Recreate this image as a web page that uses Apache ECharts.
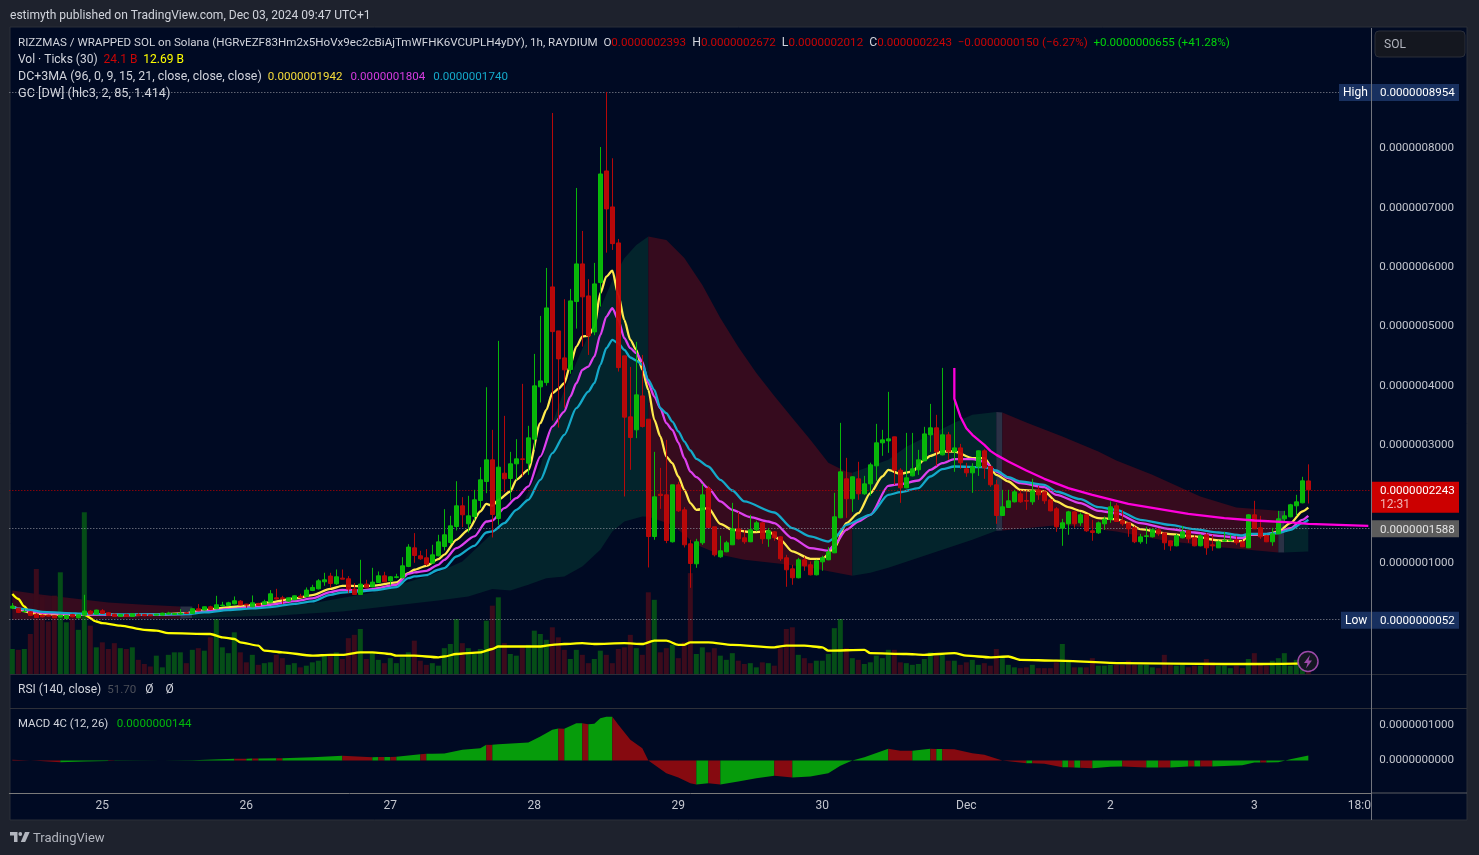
<!DOCTYPE html>
<html><head><meta charset="utf-8">
<style>html,body{margin:0;padding:0;background:#1e222d}#c{width:1479px;height:855px}</style>
<script src="https://cdn.jsdelivr.net/npm/echarts@6/dist/echarts.min.js"></script>
</head><body><div id="c"></div>
<script>
// All prices in units of 1e-10. Candle rows: open, close, low, high
const ohlc=[[247,281,230,332],[247,174,163,253],[185,191,180,230],[185,124,112,197],[146,90,84,163],[129,101,90,140],[129,112,110,135],[118,84,80,124],[96,129,90,135],[73,124,70,130],[140,101,90,150],[84,135,73,146],[129,197,118,472],[197,146,140,214],[146,214,140,220],[202,157,150,230],[169,124,118,180],[146,107,100,152],[107,140,101,146],[140,107,101,152],[107,152,101,157],[140,124,118,163],[140,118,112,146],[135,118,112,140],[129,146,124,150],[129,163,124,169],[146,163,140,185],[140,157,135,163],[146,163,140,230],[169,157,150,185],[157,236,150,242],[236,202,197,315],[214,270,208,275],[270,225,214,287],[236,303,230,455],[287,298,270,354],[292,337,287,354],[320,371,310,444],[365,298,292,382],[315,298,253,320],[270,337,264,461],[326,292,286,337],[309,354,303,388],[348,489,342,551],[421,399,390,573],[421,405,315,455],[365,421,354,427],[388,455,382,461],[449,427,421,489],[444,551,438,596],[545,596,534,641],[573,708,562,736],[691,725,624,843],[787,663,590,843],[658,776,640,899],[753,736,736,899],[742,568,500,787],[568,478,472,669],[478,652,472,1062],[652,590,584,725],[607,686,596,927],[680,792,674,865],[792,691,680,860],[708,776,630,787],[765,775,749,826],[759,961,750,1107],[950,1276,938,1326],[1264,1135,1012,1512],[1130,1079,1062,1214],[1096,989,961,1242],[1006,1146,1000,1315],[1130,1365,1120,1484],[1287,1484,1220,1916],[1354,1635,1315,1804],[1624,1973,1557,2388],[1973,1821,1613,2119],[1669,1804,1523,2141],[1793,2074,1725,2242],[2063,2411,1939,2625],[2383,2748,2186,3973],[2748,1827,1439,3254],[1759,2625,1652,4755],[2523,2428,2203,3490],[2434,2681,2063,2883],[2681,2765,2411,3097],[2765,2755,2467,4030],[2692,3119,2495,3322],[3097,3996,2917,4535],[3979,4080,3715,5176],[4051,5311,4000,5985],[5665,4911,3411,8599],[4923,4451,3293,4923],[4468,4266,3625,5457],[4271,5429,4200,5631],[5418,6053,4962,7334],[6053,5497,4659,6609],[5513,4839,4518,5795],[4906,5716,4850,6070],[5738,7570,5333,8025],[7621,6980,6243,8954],[7014,6395,6289,7835],[6407,4304,4237,6474],[4502,3468,2130,4502],[3473,3124,2580,4316],[3254,3844,3114,4738],[3827,3310,3293,4518],[3434,1455,933,3434],[1455,2124,1400,2883],[2169,2147,1922,2613],[2158,1388,1343,3085],[1366,2327,1354,2327],[2327,1888,1871,2377],[1905,1315,1270,1950],[1332,1000,590,1400],[995,1366,927,1416],[1349,2158,1315,2343],[2270,1607,1607,2310],[1619,1146,1118,1619],[1113,1214,1096,1467],[1197,1349,1190,1382],[1315,1585,1310,2023],[1585,1416,1405,1871],[1433,1366,1332,1568],[1366,1568,1360,1821],[1568,1686,1540,1720],[1686,1416,1332,1700],[1416,1551,1281,1596],[1534,1433,1382,1545],[1450,1079,1045,1460],[1096,894,607,1146],[910,759,641,978],[759,1062,750,1096],[1062,961,877,1118],[978,809,800,1034],[809,1045,800,1062],[1028,1096,877,1130],[1062,1197,1055,1276],[1180,1787,1175,2192],[1770,2546,1765,3372],[2428,2091,1770,2782],[2091,2462,1871,2470],[2428,2175,2074,2715],[2175,2343,2158,2478],[2343,2664,2141,2700],[2647,3035,2394,3355],[3035,3085,2816,3254],[3068,3102,2866,3895],[3136,2574,2327,3140],[2574,2276,2023,2608],[2276,2445,2270,3203],[2478,2597,2470,3203],[2580,2748,2495,2917],[2731,3186,2725,3305],[3170,3288,2883,3692],[3288,2883,2647,3507],[2832,3170,2825,4299],[3170,2883,2748,3220],[2883,2950,2546,4299],[2950,2698,2597,3018],[2597,2529,2462,2698],[2529,2630,2192,2692],[2630,2900,2478,2905],[2900,2613,2428,2928],[2636,2327,2293,2640],[2327,1810,1669,2411],[1810,1956,1800,2242],[1945,2057,1940,2242],[2040,2209,2030,2242],[2175,2040,2023,2231],[2063,2051,1905,2214],[2040,2226,1990,2428],[2242,2158,2074,2310],[2209,2057,2006,2215],[2074,1888,1880,2080],[1922,1619,1534,1950],[1596,1686,1298,1753],[1669,1871,1484,1888],[1871,1669,1602,1880],[1686,1821,1635,1860],[1821,1551,1534,1830],[1551,1523,1383,1737],[1517,1686,1500,1708],[1669,1748,1568,1793],[1742,1956,1686,2046],[1973,1708,1700,2018],[1725,1669,1635,1905],[1686,1585,1450,1690],[1602,1366,1343,1635],[1366,1450,1332,1500],[1456,1467,1332,1619],[1450,1568,1439,1596],[1568,1500,1467,1596],[1517,1349,1231,1525],[1382,1298,1214,1390],[1298,1467,1290,1500],[1433,1534,1425,1635],[1551,1416,1349,1568],[1433,1298,1290,1484],[1298,1467,1290,1500],[1484,1264,1146,1512],[1315,1298,1214,1484],[1264,1366,1260,1388],[1377,1388,1370,1534],[1382,1388,1375,1484],[1399,1349,1315,1467],[1366,1281,1275,1399],[1264,1821,1260,1830],[1821,1585,1580,2057],[1602,1450,1416,1804],[1467,1366,1360,1484],[1366,1500,1298,1602],[1500,1753,1495,1888],[1753,1804,1703,1888],[1787,1990,1780,2006],[1973,2040,1804,2158],[2023,2394,2015,2462],[2393,2243,2012,2672]];
// Volume in billions of ticks
const volume=[30,29,30,48,126,93,63,94,122,62,67,53,194,58,32,38,30,37,31,30,32,17,12,9,22,8,23,26,26,13,29,31,28,44,66,32,25,50,26,14,23,11,13,14,23,19,11,13,8,10,14,16,22,22,26,18,43,47,54,18,26,17,13,19,13,20,26,40,16,11,13,10,31,36,66,37,31,24,30,64,82,92,37,24,22,34,35,52,48,41,56,44,29,18,29,23,13,18,28,23,13,30,32,47,31,23,98,89,26,31,35,19,38,121,24,32,26,31,22,17,25,16,12,13,8,14,13,10,31,54,56,23,19,13,16,16,24,55,66,31,19,17,12,14,22,19,29,29,14,13,11,12,18,26,22,24,16,16,11,14,17,11,13,10,30,20,11,8,7,8,11,7,7,7,14,36,16,8,8,8,19,10,10,11,11,11,16,11,11,11,8,7,23,11,10,11,8,10,10,18,14,10,10,7,10,7,18,25,11,10,16,19,25,10,17,9,24.1];
const volumeMA=[[0,96],[1,90],[2,81],[3,73],[5,72],[9,72],[12,71],[14,63],[15,61],[18,58],[22,53],[24,52],[26,49],[33,48],[35,44],[37,42],[38,38],[41,34],[42,28],[45,26],[50,22],[53,23],[55,23],[58,26],[60,26],[63,24],[64,22],[67,22],[71,20],[72,21],[74,24],[78,26],[80,30],[81,33],[88,33],[90,35],[92,36],[95,37],[97,36],[102,37],[105,36],[107,40],[109,40],[111,35],[112,35],[113,38],[116,38],[120,35],[127,32],[129,34],[132,34],[135,32],[136,28],[142,29],[143,25],[149,24],[152,23],[157,25],[159,22],[163,20],[166,21],[168,17],[174,16],[185,13],[202,12],[208,12],[216,12.69]];
const maFast=[[0,275],[3,174],[5,152],[9,135],[12,140],[15,146],[19,129],[24,135],[29,163],[32,214],[36,259],[40,298],[43,343],[47,410],[50,466],[53,573],[55,624],[58,618],[60,624],[64,680],[66,837],[67,894],[69,961],[71,1073],[72,1150],[74,1399],[76,1568],[78,1877],[79,2006],[80,1973],[81,2074],[83,2214],[84,2411],[86,2579],[88,3366],[89,3591],[90,3872],[91,3945],[92,4040],[93,4349],[94,4658],[95,4827],[96,4839],[97,4985],[98,5558],[99,5839],[100,5940],[101,5530],[102,5108],[103,4771],[104,4603],[105,4265],[106,3928],[107,3423],[108,3142],[109,2804],[110,2692],[111,2467],[112,2242],[113,2018],[114,1905],[116,1933],[118,1669],[120,1568],[123,1529],[126,1540],[128,1399],[130,1203],[133,1079],[135,1079],[137,1259],[139,1680],[141,1849],[143,2186],[145,2467],[146,2580],[148,2512],[150,2551],[152,2748],[153,2816],[155,2889],[157,2889],[160,2776],[162,2776],[164,2495],[166,2383],[168,2242],[172,2214],[174,2046],[176,1950],[178,1888],[181,1765],[184,1748],[186,1680],[188,1579],[193,1495],[197,1456],[201,1388],[205,1377],[206,1484],[209,1489],[211,1540],[213,1680],[215,1877],[216,1942]];
const maMid=[[0,270],[3,197],[5,169],[9,146],[12,140],[15,140],[19,129],[24,135],[29,152],[32,191],[36,230],[40,264],[43,303],[47,365],[50,410],[53,517],[55,556],[58,545],[60,568],[64,641],[66,826],[67,849],[69,877],[71,978],[72,1062],[74,1259],[77,1456],[79,1708],[80,1725],[82,1933],[84,2102],[86,2299],[88,2804],[90,3310],[92,3563],[93,3816],[94,4041],[95,4266],[96,4322],[97,4490],[98,4856],[99,5165],[100,5305],[101,5109],[102,4799],[103,4631],[104,4547],[105,4406],[106,4041],[107,3816],[108,3619],[109,3366],[110,3254],[111,3040],[112,2776],[113,2551],[114,2456],[116,2270],[118,2046],[120,1905],[123,1782],[126,1708],[127,1680],[130,1427],[133,1259],[136,1214],[137,1315],[139,1568],[141,1708],[143,1821],[146,2310],[148,2338],[151,2400],[153,2580],[155,2692],[157,2759],[160,2759],[162,2720],[164,2551],[166,2439],[168,2355],[172,2287],[174,2158],[178,2018],[181,1888],[184,1849],[188,1680],[193,1579],[197,1523],[201,1467],[205,1427],[206,1484],[209,1495],[211,1523],[213,1596],[215,1737],[216,1804]];
const maSlow=[[0,264],[3,219],[5,185],[9,163],[12,152],[15,146],[19,140],[24,140],[29,146],[32,174],[36,214],[40,242],[43,264],[47,320],[50,360],[53,472],[55,511],[58,528],[60,545],[64,601],[66,753],[67,781],[69,804],[71,894],[72,922],[74,1118],[77,1298],[79,1523],[80,1540],[82,1680],[84,1905],[86,2074],[88,2411],[90,2860],[92,3170],[94,3620],[96,3900],[97,4041],[98,4350],[99,4631],[100,4771],[101,4715],[102,4603],[103,4474],[104,4423],[105,4350],[106,4097],[107,3928],[108,3619],[109,3535],[110,3394],[111,3230],[112,3057],[113,2906],[114,2765],[116,2636],[118,2411],[120,2231],[122,2046],[127,1860],[130,1596],[133,1456],[136,1371],[137,1427],[139,1652],[143,1821],[146,2158],[148,2203],[151,2270],[153,2467],[155,2591],[157,2636],[162,2625],[164,2568],[166,2456],[168,2383],[172,2327],[174,2214],[178,2085],[181,1950],[184,1905],[188,1737],[193,1652],[197,1579],[201,1523],[205,1472],[206,1500],[209,1500],[211,1512],[213,1568],[215,1680],[216,1740]];
const anchoredCurve=[[157,4299],[157,3780],[158,3480],[159,3282],[160,3170],[161,3085],[162,3001],[163,2900],[164,2832],[166,2720],[169,2568],[172,2428],[176,2270],[180,2158],[186,2006],[191,1922],[196,1838],[202,1765],[207,1725],[213,1692],[216,1669],[226,1635]];
const gcRed1Upper=[[0,545],[5,472],[11,399],[16,343],[22,303],[28,275]], gcRed1Lower=[[0,50],[11,62],[28,67]];
const gcGrey1Upper=[[28,275],[30,275]], gcGrey1Lower=[[28,67],[30,79]];
const gcGreen1Upper=[[30,140],[40,230],[50,330],[60,511],[70,810],[75,1034],[80,1512],[85,1990],[88,2636],[90,3366],[92,3928],[95,4620],[98,5311],[100,5772],[102,6148],[104,6373],[106,6514]];
const gcGreen1Lower=[[30,79],[44,124],[55,191],[71,377],[76,444],[80,568],[83,545],[86,641],[89,753],[92,781],[95,950],[98,1231],[100,1540],[102,1708],[105,1793],[106,1787]];
const gcRed2Upper=[[106,6514],[109,6457],[112,6154],[115,5699],[118,5142],[121,4653],[124,4215],[127,3827],[130,3456],[133,3085],[136,2698],[139,2546],[140,2529]];
const gcRed2Lower=[[106,1787],[110,1652],[114,1315],[118,1146],[122,1062],[128,995],[133,927],[140,792]];
const gcGreen2Upper=[[140,2529],[146,2748],[149,2967],[154,3220],[157,3372],[160,3507],[164,3557]];
const gcGreen2Lower=[[140,792],[143,843],[146,927],[149,1028],[154,1197],[160,1399],[164,1551]];
const gcGrey2Upper=[[164,3557],[165,3546]], gcGrey2Lower=[[164,1551],[165,1557]];
const gcRed3Upper=[[165,3546],[169,3378],[175,3142],[181,2889],[184,2737],[190,2495],[198,2130],[204,1945],[211,1888]];
const gcRed3Lower=[[165,1557],[175,1652],[184,1540],[192,1388],[200,1287],[206,1231],[211,1186]];
const gcGrey3Upper=[[211,1888],[212,1888]], gcGrey3Lower=[[211,1186],[212,1186]];
const gcGreen3Upper=[[212,1512],[214,1596],[216,1737]], gcGreen3Lower=[[212,1186],[216,1203]];
const macdLine=[[0,19],[4,-10],[8,-48],[12,-28],[16,-15],[17,-10],[25,0],[30,10],[37,48],[39,52],[40,55],[41,58],[44,62],[45,67],[50,95],[55,133],[60,95],[61,97],[62,100],[63,102],[64,105],[68,181],[69,190],[70,190],[72,200],[75,305],[78,352],[79,447],[80,447],[81,466],[86,514],[88,685],[90,876],[91,914],[92,904],[94,1066],[95,1066],[96,1038],[97,1047],[98,1209],[99,1247],[100,1247],[101,1019],[103,590],[105,352],[106,0],[109,-362],[111,-486],[113,-647],[114,-685],[116,-647],[118,-685],[121,-600],[124,-505],[127,-438],[130,-486],[133,-457],[136,-362],[138,-152],[140,0],[142,95],[146,333],[148,276],[150,276],[153,333],[154,330],[155,328],[157,324],[160,209],[162,162],[165,0],[169,-76],[170,-80],[172,-95],[175,-190],[176,-195],[177,-200],[178,-205],[180,-219],[183,-180],[185,-171],[189,-200],[191,-200],[193,-200],[196,-171],[197,-171],[198,-171],[200,-171],[205,-133],[207,-57],[208,-57],[209,-57],[211,-48],[213,38],[216,144]];
// Each run ends where the next begins; colours alternate starting red
const macdRunBreaks=[0,8,16,17,37,39,40,41,44,45,55,60,61,62,63,64,68,69,79,80,91,92,95,96,100,114,116,118,127,130,146,150,153,154,155,169,170,175,176,177,178,180,185,189,191,193,196,197,198,200,208,209,216];
const tickIndex=[15,39,63,87,111,135,159,183,207,225];
const tickText=['25','26','27','28','29','30','Dec','2','3','18:0'];
const priceTicks=[1000,3000,4000,5000,6000,7000,8000];
const macdTicks=[0,1000];
const slotCount=227;

const FONT='Roboto, "Noto Sans", sans-serif';
const BG='#000a23', OUT='#1e222d', AXT='#c3c6ce', NUM=11.6;
const COL={gcRed:'#360b1e',gcTeal:'#03242c',gcGrey:'#2a3145',macdUp:'#069c0b',macdDn:'#860a10'};
const gcSegments=[
 {c:COL.gcRed,u:gcRed1Upper,l:gcRed1Lower},{c:COL.gcGrey,u:gcGrey1Upper,l:gcGrey1Lower},
 {c:COL.gcTeal,u:gcGreen1Upper,l:gcGreen1Lower},{c:COL.gcRed,u:gcRed2Upper,l:gcRed2Lower},
 {c:COL.gcTeal,u:gcGreen2Upper,l:gcGreen2Lower},{c:COL.gcGrey,u:gcGrey2Upper,l:gcGrey2Lower},
 {c:COL.gcRed,u:gcRed3Upper,l:gcRed3Lower},{c:COL.gcGrey,u:gcGrey3Upper,l:gcGrey3Lower},
 {c:COL.gcTeal,u:gcGreen3Upper,l:gcGreen3Lower}];
const categories=Array.from({length:slotCount},(_,i)=>String(i));
const labelOf=i=>{const p=tickIndex.indexOf(+i);if(p<0)return '';const t=tickText[p];return t.indexOf(':')>=0?'{s|'+t+'}':t;};
const fmt=v=>(v*1e-10).toFixed(10);
const volData=volume.map((v,i)=>({value:v,itemStyle:{color:ohlc[i][1]>=ohlc[i][0]?'#054d17':'#3b0b1c'}}));
const macdRuns=macdRunBreaks.slice(1).map((e,i)=>[macdRunBreaks[i],e,i%2]);

function line(name,data,color,z,w,x,y){return {name,type:'line',data,symbol:'none',smooth:0.25,smoothMonotone:'x',z,xAxisIndex:x||0,yAxisIndex:y||0,lineStyle:{color,width:w||2.3},silent:true,animation:false};}
const grids=[{left:9.33,width:1362,top:28,height:646},{left:9.33,width:1362,top:28,height:646},{left:9.33,width:1362,top:709,height:84}];
const hiddenX=i=>({type:'category',gridIndex:i,data:categories,show:false,boundaryGap:true});
const yLabel=t=>({customValues:t,color:AXT,fontFamily:FONT,fontSize:NUM,margin:8,padding:[7,0,0,0],formatter:fmt});

const option={
 animation:false,backgroundColor:OUT,grid:grids,
 xAxis:[hiddenX(0),hiddenX(1),{type:'category',gridIndex:2,data:categories,boundaryGap:true,
   axisLine:{show:true,onZero:false,lineStyle:{color:'#7a7a7a',width:1}},axisTick:{show:false},splitLine:{show:false},
   axisLabel:{color:AXT,fontFamily:FONT,fontSize:12,margin:7,hideOverlap:false,
     rich:{s:{color:AXT,fontFamily:FONT,fontSize:12,padding:[0,6,0,0]}},
     interval:(i)=>tickIndex.indexOf(i)>=0,formatter:(v)=>labelOf(v)}}],
 yAxis:[{type:'value',gridIndex:0,position:'right',min:-864,max:10032,splitLine:{show:false},axisLine:{show:false},axisTick:{show:false},axisLabel:yLabel(priceTicks)},
   {type:'value',gridIndex:1,min:0,max:775,show:false},
   {type:'value',gridIndex:2,position:'right',min:-929,max:1471,splitLine:{show:false},axisLine:{show:false},axisTick:{show:false},axisLabel:yLabel(macdTicks)}],
 series:[
  {type:'custom',xAxisIndex:0,yAxisIndex:0,z:1,silent:true,data:gcSegments.map(s=>[s.u[0][0],s.u[0][1]]),encode:{x:0,y:1},
   renderItem:(p,api)=>{const s=gcSegments[p.dataIndex];const pts=s.u.concat(s.l.slice().reverse()).map(d=>api.coord(d));
     return {type:'polygon',shape:{points:pts},style:{fill:s.c}};}},
  {type:'bar',xAxisIndex:1,yAxisIndex:1,data:volData,barWidth:5,z:2,silent:true},
  line('volMA',volumeMA,'#ffff00',3,2.3,1,1),
  line('fast',maFast,'#ffe94d',4),line('mid',maMid,'#dd40ee',4),line('slow',maSlow,'#14a9c9',4),
  {type:'candlestick',xAxisIndex:0,yAxisIndex:0,data:ohlc,barWidth:4,z:5,silent:true,
   itemStyle:{color:'#08c008',color0:'#c00808',borderColor:'#08c008',borderColor0:'#c00808',borderWidth:1,opacity:.95},
   markLine:{silent:true,symbol:'none',animation:false,label:{show:false},lineStyle:{type:[1,2],width:1},
    data:[{yAxis:8954,lineStyle:{color:'#8e919b'}},{yAxis:52,lineStyle:{color:'#8e919b'}},{yAxis:2243,lineStyle:{color:'#c00000'}},{yAxis:1588,lineStyle:{color:'#8e919b'}}]}},
  Object.assign(line('anchored',anchoredCurve,'#ff00dc',6),{smooth:false}),
  {type:'custom',xAxisIndex:2,yAxisIndex:2,z:3,silent:true,data:macdRuns.map(r=>[r[0],0]),encode:{x:0,y:1},
   renderItem:(p,api)=>{const r=macdRuns[p.dataIndex];const pts=[[r[0],0]].concat(macdLine.filter(d=>d[0]>=r[0]&&d[0]<=r[1]),[[r[1],0]]).map(d=>api.coord(d));
     return {type:'polygon',shape:{points:pts},style:{fill:r[2]?COL.macdUp:COL.macdDn}};}}
 ]
};
const chart=echarts.init(document.getElementById('c'),null,{renderer:'canvas',width:1479,height:855});
chart.setOption(option);

// parts: [text, colour, font size]
function runs(x,y,parts){
 const rich={};let s='';parts.forEach((p,i)=>{rich['c'+i]={fill:p[1],fontSize:p[2]||12,fontFamily:FONT};s+='{c'+i+'|'+p[0]+'}';});
 return {type:'text',x,y:y+1,z:20,silent:true,style:{text:s,rich,textVerticalAlign:'middle',fill:'#d1d4dc',fontSize:12,fontFamily:FONT}};
}
function rect(x,y,w,h,fill,z,stroke){return {type:'rect',shape:{x,y,width:w,height:h},z:z||15,silent:true,style:{fill,stroke:stroke,lineWidth:stroke?1:0}};}
function txt(x,y,t,fill,size){return {type:'text',x,y:y+1,z:20,silent:true,style:{text:t,fill,fontSize:size||12,fontFamily:FONT,textVerticalAlign:'middle'}};}
const py=v=>chart.convertToPixel({yAxisIndex:0},v);
const L='#d1d4dc',R='#c80505',G='#00d40a',TAG='#18305f';
const gfx=[
 rect(10,27,1457,793,BG,-1,'#2a2e39'),
 rect(10,674,1361,1,'#2a2e39',10),
 rect(10,708,1361,1,'#2e3038',10),
 rect(1371,28,1,792,'#72757e',18),
 rect(1371,674,96,1,'#2a2e39',10),
 rect(1371,708,96,1,'#2e3038',10),
 rect(1371,792.5,96,1,'#5a5c62',10),
 txt(10,15,'estimyth published on TradingView.com, Dec 03, 2024 09:47 UTC+1','#d1d4dc',12.05),
 runs(18,42,[['RIZZMAS / WRAPPED SOL on Solana (HGRvEZF83Hm2x5HoVx9ec2cBiAjTmWFHK6VCUPLH4yDY), 1h, RAYDIUM  O',L,11.6],['0.0000002393',R,NUM],['  H',L,12.3],['0.0000002672',R,NUM],['  L',L,12.3],['0.0000002012',R,NUM],['  C',L,12.3],['0.0000002243',R,NUM],['  −0.0000000150 (−6.27%)',R,11.6],['  +0.0000000655 (+41.28%)',G,11.6]]),
 runs(18,59,[['Vol · Ticks (30)  ',L],['24.1 B',R],['  ',L],['12.69 B','#ffff00']]),
 runs(18,76,[['DC+3MA (96, 0, 9, 15, 21, close, close, close)  ',L,12.4],['0.0000001942','#f6dd3a',NUM],['  ',L,16],['0.0000001804','#d63ce0',NUM],['  ',L,16],['0.0000001740','#14a9c9',NUM]]),
 txt(18,93,'GC [DW] (hlc3, 2, 85, 1.414)',L,12.7),
 runs(18,689,[['RSI (140, close)  ',L],['51.70',  '#4b4f59',NUM],['   ',L],['Ø',L],['    ',L],['Ø',L]]),
 runs(18,723,[['MACD 4C (12, 26)   ',L,11.4],['0.0000000144','#00b80a',NUM]]),
 // right scale tags
 rect(1339,py(8954)-8,120,17,TAG,16), txt(1343,py(8954),'High','#ffffff'), txt(1380,py(8954),'0.0000008954','#ffffff',NUM),
 rect(1341,py(52)-8,118,17,TAG,16), txt(1345,py(52),'Low','#ffffff'), txt(1380,py(52),'0.0000000052','#ffffff',NUM),
 rect(1371,py(2243)-8,88,31,'#cc0000',16), txt(1380,py(2243),'0.0000002243','#ffffff',NUM), txt(1380,py(2243)+14,'12:31','#f0b4b4'),
 rect(1371,py(1588)-8.5,88,17,'#5c5c5c',16), txt(1380,py(1588),'0.0000001588','#e4e4e4',NUM),
 {type:'rect',z:16,silent:true,shape:{x:1375,y:31,width:90,height:26,r:4},style:{fill:'#14171f',stroke:'#2a2e39',lineWidth:1}},
 txt(1384,44,'SOL','#b2b5be'),
 // alert bolt
 {type:'circle',z:17,silent:true,shape:{cx:1308,cy:661.5,r:10},style:{fill:'#131722',stroke:'#9c4aa8',lineWidth:1.5}},
 {type:'polygon',z:18,silent:true,shape:{points:[[1310,655],[1304,663],[1307.5,663],[1306,668.5],[1312,660.5],[1308.5,660.5]]},style:{fill:'#9c4aa8'}},
 // TradingView mark
 {type:'polygon',z:18,silent:true,shape:{points:[[10,832],[17.5,832],[17.5,842],[14,842],[14,835.5],[10,835.5]]},style:{fill:'#b2b5be'}},
 {type:'circle',z:18,silent:true,shape:{cx:20.3,cy:834,r:1.9},style:{fill:'#b2b5be'}},
 {type:'polygon',z:18,silent:true,shape:{points:[[25,832],[29.7,832],[25.2,842],[20.8,842]]},style:{fill:'#b2b5be'}},
 txt(33,838,'TradingView','#b2b5be',13)
];
chart.setOption({graphic:{elements:gfx}});
</script></body></html>
